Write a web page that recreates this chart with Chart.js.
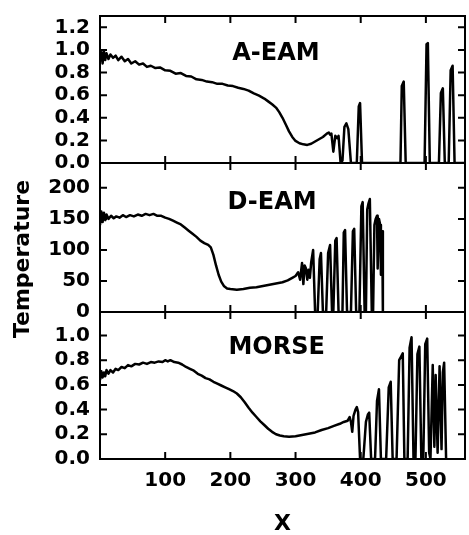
<!DOCTYPE html>
<html>
<head>
<meta charset="utf-8">
<script src="https://cdn.jsdelivr.net/npm/chart.js@4.4.0/dist/chart.umd.min.js"></script>
<style>
body { margin: 0; background: #fff; }
#tempChart { display: block; }
</style>
</head>
<body>
<canvas id="tempChart" width="469" height="535"></canvas>
<script>
// x positions and temperatures
const aeamX = [0,2,4,6,8,10,13,16,20,24,28,33,38,43,48,54,60,66,72,78,85,92,100,108,116,124,132,140,148,156,164,172,180,188,196,204,212,220,228,236,244,252,258,264,270,275,280,285,290,295,300,306,312,318,324,330,336,342,348,351,353,355,358,361,364,366,369,372,375,378,381,385,394,397,399,402,461,463,466,469,498,501,503,506,520,523,526,529,535,538,541,544,560];
const aeamY = [0.90,0.98,0.88,0.99,0.91,0.97,0.92,0.96,0.93,0.95,0.91,0.94,0.90,0.92,0.88,0.90,0.87,0.88,0.85,0.86,0.84,0.845,0.82,0.815,0.79,0.795,0.77,0.765,0.74,0.735,0.72,0.715,0.70,0.70,0.685,0.68,0.665,0.655,0.64,0.615,0.595,0.57,0.545,0.52,0.49,0.45,0.40,0.34,0.28,0.23,0.195,0.175,0.165,0.16,0.17,0.19,0.21,0.23,0.26,0.27,0.25,0.26,0.10,0.24,0.22,0.24,0.01,0.02,0.32,0.35,0.30,0,0,0.50,0.53,0,0,0.68,0.72,0,0,1.05,1.06,0,0,0.62,0.66,0,0,0.82,0.86,0,0];

const deamX = [0,2,4,6,8,10,13,17,21,25,30,35,40,46,52,58,64,70,76,82,88,94,100,106,112,118,124,130,136,142,148,154,160,166,170,174,178,182,186,190,195,200,210,220,230,240,250,260,270,280,288,295,300,304,307,310,312,314,316,318,320,322,324,327,330,334,337,339,342,347,350,353,356,358,361,363,366,372,374,376,379,385,388,390,393,398,401,403,406,408,410,412,414,417,419,421,423,425,426,428,430,431,433,434];
const deamY = [140,162,145,160,148,157,150,155,151,154,152,156,153,156,154,157,155,158,156,158,155,155,152,150,147,144,141,136,131,126,121,115,111,108,104,92,75,60,49,42,38,37,36,37,39,40,42,44,46,48,51,55,58,64,52,79,45,75,70,52,68,55,80,100,0,0,85,95,0,0,95,108,0,0,115,119,0,0,128,132,0,0,130,134,0,0,170,177,0,0,165,175,182,0,0,140,150,155,70,150,140,60,130,0];

const morseX = [0,2,4,6,8,10,13,16,20,24,28,33,38,43,48,54,60,66,72,78,84,90,96,100,104,108,114,120,126,132,138,144,150,156,162,168,174,180,186,192,198,204,210,216,222,228,234,240,246,252,258,264,270,276,282,290,300,310,320,330,340,350,360,368,374,380,383,385,387,389,392,394,396,399,404,408,411,413,416,422,425,428,431,439,443,446,449,455,459,462,464.5,467,472,475,478,481,484,487,490,493,496,499,502,505,507,510.5,513,515,518,521,524,526,528,531];
const morseY = [0.64,0.71,0.66,0.70,0.67,0.72,0.69,0.72,0.70,0.73,0.72,0.745,0.735,0.76,0.75,0.77,0.765,0.78,0.77,0.785,0.78,0.79,0.785,0.80,0.79,0.80,0.785,0.78,0.765,0.745,0.73,0.715,0.69,0.675,0.655,0.645,0.625,0.61,0.595,0.58,0.565,0.55,0.53,0.50,0.46,0.415,0.375,0.34,0.305,0.275,0.245,0.22,0.20,0.19,0.185,0.18,0.185,0.195,0.205,0.215,0.235,0.25,0.27,0.285,0.30,0.31,0.34,0.30,0.22,0.35,0.40,0.42,0.38,0,0,0.30,0.36,0.375,0,0,0.47,0.565,0,0,0.58,0.625,0,0,0.80,0.83,0.855,0,0,0.90,0.985,0,0,0.85,0.91,0,0,0.93,0.975,0.05,0,0.76,0.10,0.68,0.05,0.75,0.08,0.70,0.78,0];

const xTicks = [100, 200, 300, 400, 500];
const panelNames = ['A-EAM', 'D-EAM', 'MORSE'];

const FONT = 'DejaVu Sans';
const TICK = 7;

function points(xs, ys) {
	return xs.map((x, i) => ({x: x, y: ys[i]}));
}

function yAxis(max, step, weight, digits) {
	return {
		type: 'linear',
		position: 'left',
		stack: 'temp',
		stackWeight: weight,
		min: 0,
		max: max,
		grid: {display: false, drawTicks: false},
		border: {display: false},
		ticks: {
			stepSize: step,
			includeBounds: false,
			autoSkip: false,
			padding: 10,
			color: '#000',
			font: {family: FONT, size: 20, weight: 'bold'},
			callback: v => v.toFixed(digits)
		},
		afterFit: s => { s.width = 100; s.paddingTop = 0; s.paddingBottom = 0; }
	};
}

// frames, inward ticks on all four sides, panel names and the y title
const framePlugin = {
	id: 'framePlugin',
	afterDraw(chart) {
		const ctx = chart.ctx;
		const area = chart.chartArea;
		const xs = chart.scales.x;
		const ids = ['yA', 'yD', 'yM'];
		const labelPos = [[270, 0.97], [264, 176], [271, 0.90]];
		ctx.save();
		ctx.strokeStyle = '#000';
		ctx.lineWidth = 2;
		ids.forEach((id, k) => {
			const s = chart.scales[id];
			ctx.strokeRect(area.left, s.top, area.right - area.left, s.bottom - s.top);
			ctx.beginPath();
			s.ticks.forEach(t => {
				const py = s.getPixelForValue(t.value);
				ctx.moveTo(area.left, py); ctx.lineTo(area.left + TICK, py);
				ctx.moveTo(area.right, py); ctx.lineTo(area.right - TICK, py);
			});
			xTicks.forEach(v => {
				const px = xs.getPixelForValue(v);
				ctx.moveTo(px, s.bottom); ctx.lineTo(px, s.bottom - TICK);
				ctx.moveTo(px, s.top); ctx.lineTo(px, s.top + TICK);
			});
			ctx.stroke();

			ctx.fillStyle = '#000';
			ctx.font = 'bold 24px "' + FONT + '"';
			ctx.textAlign = 'center';
			ctx.textBaseline = 'middle';
			ctx.fillText(panelNames[k], xs.getPixelForValue(labelPos[k][0]), s.getPixelForValue(labelPos[k][1]));
		});

		ctx.translate(29, 259);
		ctx.rotate(-Math.PI / 2);
		ctx.font = 'bold 22px "' + FONT + '"';
		ctx.textAlign = 'center';
		ctx.textBaseline = 'alphabetic';
		ctx.fillText('Temperature', 0, 0);
		ctx.restore();
	}
};

const line = {borderColor: '#000', borderWidth: 2.5, pointRadius: 0, tension: 0, borderJoinStyle: 'round'};

var chart = document.getElementById('tempChart').getContext('2d');
var myChart = new Chart(chart, {
	type: 'line',
	data: {
		datasets: [
			Object.assign({label: 'A-EAM', data: points(aeamX, aeamY), yAxisID: 'yA'}, line),
			Object.assign({label: 'D-EAM', data: points(deamX, deamY), yAxisID: 'yD'}, line),
			Object.assign({label: 'MORSE', data: points(morseX, morseY), yAxisID: 'yM'}, line)
		]
	},
	options: {
		responsive: false,
		animation: false,
		layout: {padding: {top: 16, right: 4, left: 0, bottom: 0}},
		plugins: {legend: {display: false}, tooltip: {enabled: false}},
		scales: {
			x: {
				type: 'linear',
				min: 0,
				max: 560,
				grid: {display: false, drawTicks: false},
				border: {display: false},
				ticks: {
					stepSize: 100,
					includeBounds: false,
					padding: 10,
					maxRotation: 0,
					color: '#000',
					font: {family: FONT, size: 20, weight: 'bold'},
					callback: v => (v === 0 ? null : v)
				},
				title: {display: true, text: 'X', color: '#000', padding: 0, font: {family: FONT, size: 22, weight: 'bold', lineHeight: 1}},
				afterFit: s => { s.height = 76; s.paddingLeft = 0; s.paddingRight = 0; }
			},
			yM: yAxis(1.19, 0.2, 147, 1),
			yD: yAxis(240, 50, 149, 0),
			yA: yAxis(1.3, 0.2, 147, 1)
		}
	},
	plugins: [framePlugin]
});
</script>
</body>
</html>
